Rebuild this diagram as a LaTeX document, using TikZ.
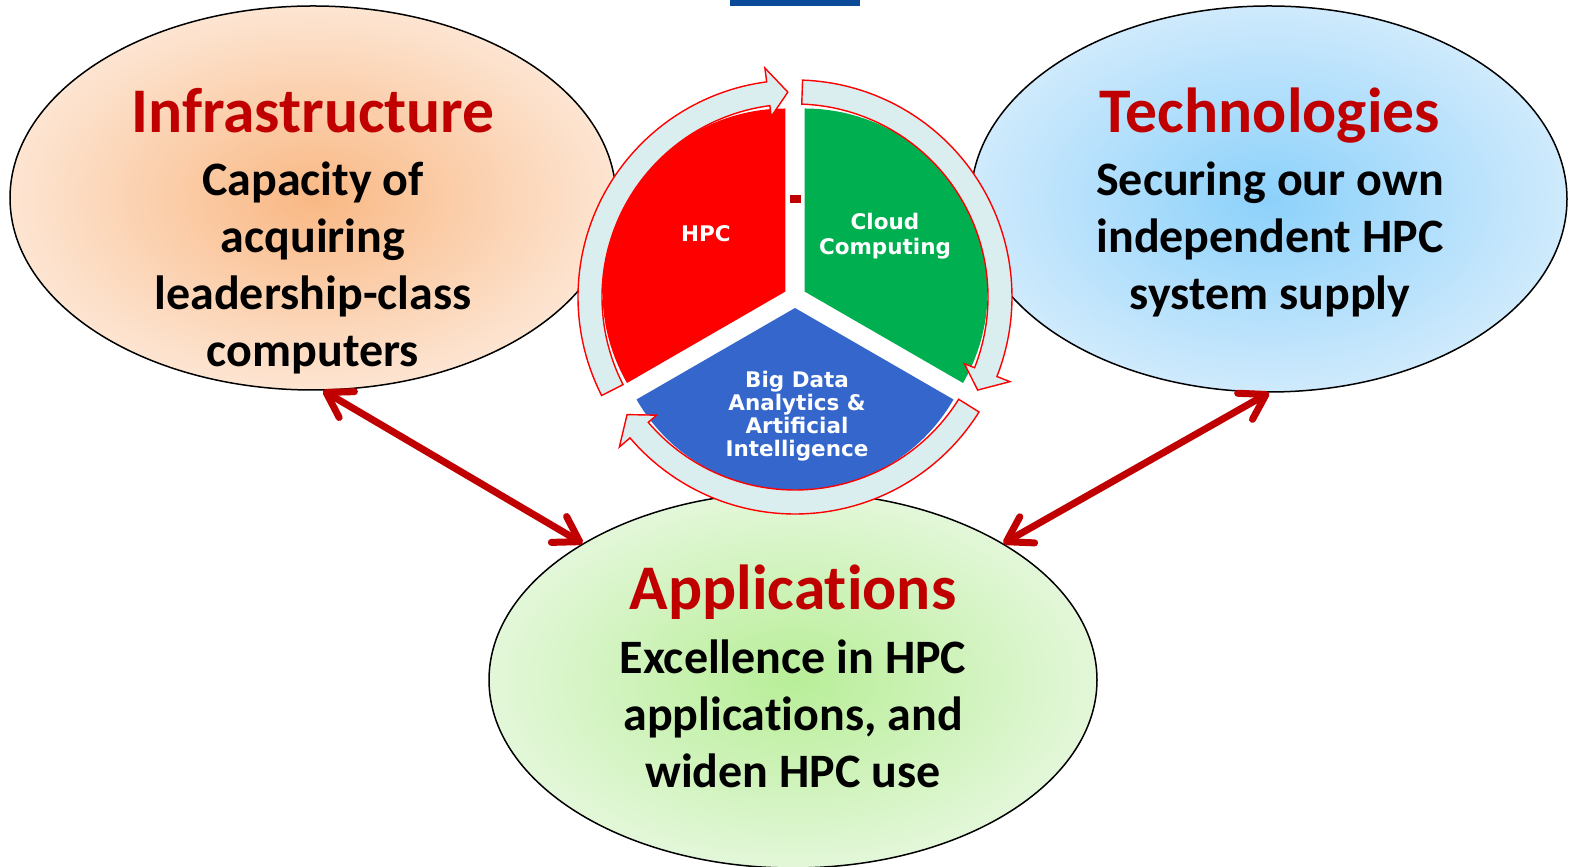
\documentclass[tikz,border=0pt]{standalone}
\usepackage{fontspec}
\setmainfont{Carlito}[Ligatures=NoCommon]
\newfontfamily\segfont{DejaVu Sans}
\usetikzlibrary{shapes.geometric,arrows.meta}

\definecolor{darkred}{RGB}{192,0,0}
\definecolor{peachin}{RGB}{249,184,132}
\definecolor{peachout}{RGB}{253,229,210}
\definecolor{skyin}{RGB}{140,209,251}
\definecolor{skyout}{RGB}{207,234,252}
\definecolor{leafin}{RGB}{184,238,152}
\definecolor{leafout}{RGB}{227,247,217}
\definecolor{hpcred}{RGB}{255,0,0}
\definecolor{cloudgreen}{RGB}{0,176,80}
\definecolor{datablue}{RGB}{52,102,204}
\definecolor{ringfill}{RGB}{218,237,239}
\definecolor{barblue}{RGB}{11,73,153}

\tikzset{
  bubble/.style={ellipse, draw=black, line width=0.75pt, inner sep=0pt, shading=radial},
  head/.style={anchor=base, text=darkred, font=\bfseries\fontsize{31.8}{36}\selectfont},
  body/.style={anchor=base, align=center, font=\bfseries\fontsize{24}{28.6}\selectfont},
  seglabel/.style={anchor=base, align=center, text=white},
  link/.style={draw=darkred, line width=3.5pt,
    {Straight Barb[round,length=12pt,width=15pt]}-{Straight Barb[round,length=12pt,width=15pt]}},
  ring/.style={fill=ringfill, draw=hpcred, line width=0.7pt}
}

\begin{document}
\begin{tikzpicture}[x=0.5pt, y=0.5pt]
  \useasboundingbox (0,0) rectangle (1570,867);

  % top bar
  \fill[barblue] (730,861) rectangle (860,867);

  % the three bubbles
  \node[bubble, inner color=peachin, outer color=peachout,
        minimum width=303pt, minimum height=192pt] (infra) at (313,669) {};
  \node[bubble, inner color=skyin, outer color=skyout,
        minimum width=298pt, minimum height=193pt] (tech) at (1269,668) {};
  \node[bubble, inner color=leafin, outer color=leafout,
        minimum width=304pt, minimum height=188pt] (apps) at (793,187) {};

  % base = last line
  \node[head] (infra-head) at (313,734) {Infrastructure};
  \node[body] (infra-text) at (313,500) {Capacity of\\acquiring\\leadership-class\\computers};
  \node[head] (tech-head) at (1270,734) {Technologies};
  \node[body] (tech-text) at (1270,557) {Securing our own\\independent HPC\\system supply};
  \node[head] (apps-head) at (793,257) {Applications};
  \node[body] (apps-text) at (793,79) {Excellence in HPC\\applications, and\\widen HPC use};

  % links
  \draw[link] (infra.-87) -- (apps.147);
  \draw[link] (tech.south) -- (apps.33);

  % cycle in the middle
  \coordinate (hub) at (795,570);
  \begin{scope}[shift={(hub)}]
    \foreach \mid/\col in {150/hpcred, 30/cloudgreen, 270/datablue}
      \fill[\col] (\mid:11) -- ++({\mid-60}:183)
        arc[start angle={\mid-60}, end angle={\mid+60}, radius=183] -- cycle;
    \foreach \s/\t [evaluate=\t as \b using \t+5.5] in {207/92, 88/-27, -32/-145}
      \draw[ring] (\s:217) arc[start angle=\s, end angle=\b, radius=217]
        -- (\b:231) -- (\t:205) -- (\b:182) -- (\b:193)
        arc[start angle=\b, end angle=\s, radius=193] -- cycle;
  \end{scope}
  \fill[darkred] (790,664) rectangle (801,672);

  \node[seglabel, font=\segfont\bfseries\fontsize{10.75}{12.5}\selectfont] (hpc) at (706,625) {HPC};
  \node[seglabel, font=\segfont\bfseries\fontsize{10.75}{12.5}\selectfont] (cloud) at (885,612) {Cloud\\Computing};
  \node[seglabel, font=\segfont\bfseries\fontsize{10.75}{11.6}\selectfont] (data) at (797,410) {Big Data\\Analytics \&\\Artificial\\Intelligence};
\end{tikzpicture}
\end{document}
